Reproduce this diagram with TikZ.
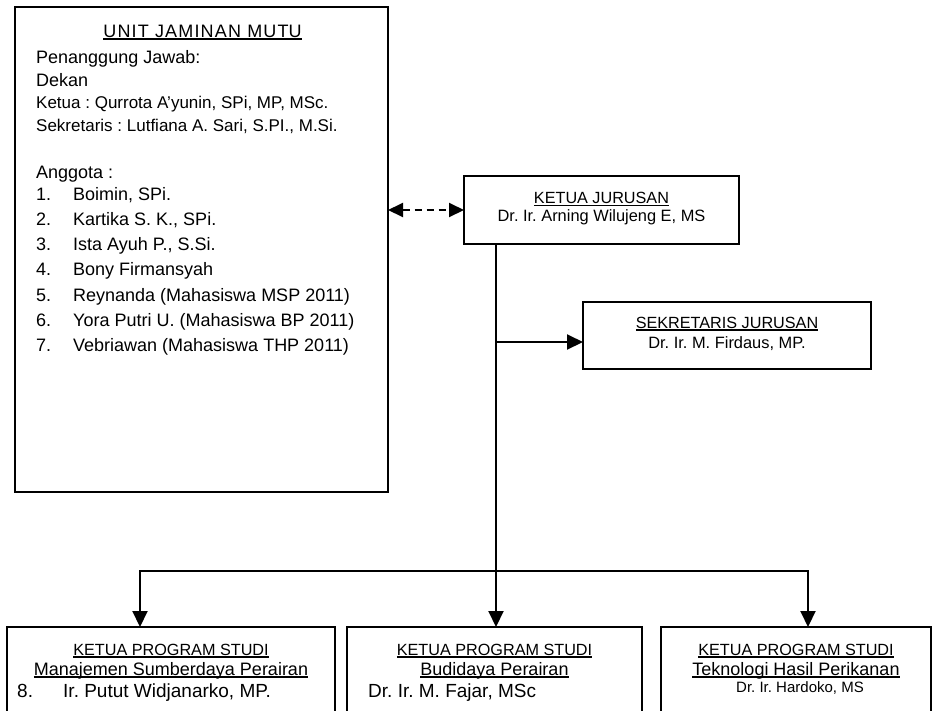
\documentclass[tikz,border=0pt]{standalone}
\usepackage{fontspec}
\setmainfont{Liberation Sans}
\usetikzlibrary{arrows.meta}
\frenchspacing
\newcommand\myul[1]{\sbox0{#1}\rlap{\rule[-2.6pt]{\wd0}{1.3pt}}\usebox0}
\tikzset{
  box/.style={draw, line width=2pt, inner sep=0pt, outer sep=0pt, anchor=north west},
  arr/.style={line width=2pt, -{Triangle[length=16pt,width=15pt]}},
  darr/.style={line width=2pt, dash pattern=on 7pt off 5pt, {Triangle[length=15pt,width=14pt]}-{Triangle[length=15pt,width=14pt]}},
  tl/.style={inner sep=0pt, anchor=base west},
  tc/.style={inner sep=0pt, anchor=base},
  big/.style={font=\frenchspacing\fontsize{18}{21}\selectfont},
  mid/.style={font=\frenchspacing\fontsize{17}{20}\selectfont},
  hdr/.style={font=\frenchspacing\fontsize{16.2}{19}\selectfont},
  nm/.style={font=\frenchspacing\fontsize{16.4}{19}\selectfont},
  sub/.style={font=\frenchspacing\fontsize{18}{21}\selectfont},
  lg/.style={font=\frenchspacing\fontsize{19}{22}\selectfont},
  sm/.style={font=\frenchspacing\fontsize{15}{18}\selectfont},
}
\begin{document}
\begin{tikzpicture}[x=1pt,y=-1pt]
\path[use as bounding box, clip] (0,0) rectangle (936,710);
% boxes
\node[box, minimum width=373pt, minimum height=485pt] (ujm) at (15,7) {};
\node[box, minimum width=275pt, minimum height=68pt] (kj) at (464,176) {};
\node[box, minimum width=288pt, minimum height=67pt] (sj) at (583,302) {};
\node[box, minimum width=328pt, minimum height=120pt] (p1) at (7,627) {};
\node[box, minimum width=295pt, minimum height=120pt] (p2) at (347,627) {};
\node[box, minimum width=270pt, minimum height=120pt] (p3) at (661,627) {};
% UJM text
\node[tc, big] (u0) at (202.5,37) {\myul{\addfontfeature{LetterSpace=6.5}UNIT JAMINAN MUT\addfontfeature{LetterSpace=0}U}};
\node[tl, big] (u1) at (36,63) {Penanggung Jawab:};
\node[tl, big] (u2) at (36,86) {Dekan};
\node[tl, mid] (u3) at (36,108) {Ketua : Qurrota A'yunin, SPi, MP, MSc.};
\node[tl, mid] (u4) at (36,131) {Sekretaris : Lutfiana A. Sari, S.PI., M.Si.};
\node[tl, big] (u5) at (36,178) {Anggota :};
\node[tl, big] (a1) at (36,200) {\makebox[37pt][l]{1.}Boimin, SPi.};
\node[tl, big] (a2) at (36,225.3) {\makebox[37pt][l]{2.}Kartika S. K., SPi.};
\node[tl, big] (a3) at (36,250.6) {\makebox[37pt][l]{3.}Ista Ayuh P., S.Si.};
\node[tl, big] (a4) at (36,275.9) {\makebox[37pt][l]{4.}Bony Firmansyah};
\node[tl, big] (a5) at (36,301.2) {\makebox[37pt][l]{5.}Reynanda (Mahasiswa MSP 2011)};
\node[tl, big] (a6) at (36,326.5) {\makebox[37pt][l]{6.}Yora Putri U. (Mahasiswa BP 2011)};
\node[tl, big] (a7) at (36,351.8) {\makebox[37pt][l]{7.}Vebriawan (Mahasiswa THP 2011)};
% Ketua Jurusan
\node[tc, hdr] (k1) at (601.5,203.3) {\myul{KETUA JURUSAN}};
\node[tc, nm] (k2) at (601.5,221.7) {Dr. Ir. Arning Wilujeng E, MS};
% Sekretaris Jurusan
\node[tc, hdr] (s1) at (727,328) {\myul{SEKRETARIS JURUSAN}};
\node[tc, nm] (s2) at (727,348) {Dr. Ir. M. Firdaus, MP.};
% Program studi
\node[tc, hdr] (q1) at (171,655) {\myul{KETUA PROGRAM STUDI}};
\node[tc, sub] (q2) at (171,675) {\myul{Manajemen Sumberdaya Perairan}};
\node[tl, lg] (q3) at (17,697) {\makebox[46pt][l]{8.}Ir. Putut Widjanarko, MP.};
\node[tc, hdr] (r1) at (494.5,655) {\myul{KETUA PROGRAM STUDI}};
\node[tc, sub] (r2) at (494.5,675) {\myul{Budidaya Perairan}};
\node[tl, lg] (r3) at (368,697) {Dr. Ir. M. Fajar, MSc};
\node[tc, hdr] (w1) at (796,655) {\myul{KETUA PROGRAM STUDI}};
\node[tc, sub] (w2) at (796,675) {\myul{Teknologi Hasil Perikanan}};
\node[tc, sm] (w3) at (800,692) {Dr. Ir. Hardoko, MS};
% connectors
\coordinate (top) at ([xshift=32pt]kj.south west);
\coordinate (h) at (496,571);
\coordinate (js) at (496,342);
\draw[darr] (kj.west -| ujm.east) -- (kj.west);
\draw[arr] (top) -- (h |- p2.north);
\draw[arr] (h) -| ([xshift=133pt]p1.north west);
\draw[arr] (h) -| ([xshift=147pt]p3.north west);
\draw[arr] (js) -- (js -| sj.west);
\end{tikzpicture}
\end{document}
